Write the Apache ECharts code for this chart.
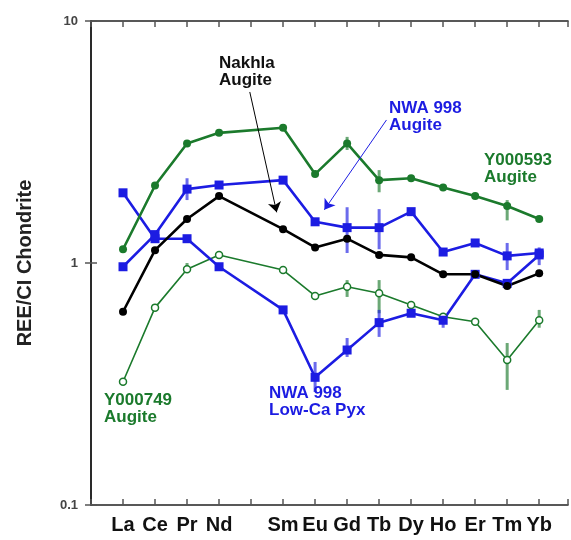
<!DOCTYPE html>
<html>
<head>
<meta charset="utf-8">
<script src="https://cdn.jsdelivr.net/npm/echarts@6/dist/echarts.min.js"></script>
<style>
html,body{margin:0;padding:0;background:#fff;}
#chart{width:571px;height:540px;}
</style>
</head>
<body>
<div id="chart"></div>
<script>
// Element order (Pm position kept, no label)
var elements = ['La','Ce','Pr','Nd','Pm','Sm','Eu','Gd','Tb','Dy','Ho','Er','Tm','Yb'];
var tickLabels = ['La','Ce','Pr','Nd','','Sm','Eu','Gd','Tb','Dy','Ho','Er','Tm','Yb'];
var yTickLabels = {'0.1':'0.1','1':'1','10':'10'};

// REE / CI chondrite values (null = Pm, not measured)
var y000593Aug = [1.14, 2.09, 3.12, 3.45, null, 3.62, 2.33, 3.12, 2.20, 2.24, 2.05, 1.89, 1.72, 1.52];
var nwa998Aug  = [0.965, 1.31, 2.02, 2.10, null, 2.20, 1.48, 1.40, 1.40, 1.63, 1.11, 1.21, 1.07, 1.10];
var nakhlaAug  = [0.629, 1.13, 1.52, 1.89, null, 1.38, 1.16, 1.26, 1.08, 1.055, 0.898, 0.898, 0.804, 0.906];
var nwa998LowCa= [1.95, 1.26, 1.26, 0.965, null, 0.64, 0.337, 0.437, 0.567, 0.62, 0.58, 0.898, 0.824, 1.08];
var y000749Aug = [0.323, 0.654, 0.942, 1.08, null, 0.935, 0.731, 0.798, 0.75, 0.671, 0.60, 0.572, 0.397, 0.58];

// error bars: [element, low, high]
var y000593Err = [['Gd',2.93,3.32],['Tb',1.96,2.42],['Tm',1.50,1.82]];
var nwa998AugErr = [['Pr',1.82,2.24],['Gd',1.10,1.70],['Tb',1.14,1.67],['Tm',0.935,1.21],['Yb',0.98,1.16]];
var nwa998LowCaErr = [['Eu',0.293,0.39],['Gd',0.409,0.49],['Tb',0.495,0.64],['Ho',0.54,0.62]];
var y000749Err = [['Pr',0.92,1.0],['Gd',0.724,0.85],['Tb',0.62,0.85],['Tm',0.299,0.467],['Yb',0.54,0.64]];

var GREEN = '#1b7a2c', BLUE = '#1c1ce2', BLACK = '#000000';
var FONT = '"Liberation Sans", Arial, Helvetica, sans-serif';

function toPts(arr){
  var out = [];
  arr.forEach(function(v,i){ if(v!==null) out.push([i+1, v]); });
  return out;
}
function errPts(arr){
  return arr.map(function(e){ return [elements.indexOf(e[0])+1, e[1], e[2]]; });
}
function errSeries(arr, color){
  return {
    type:'custom', xAxisIndex:0, yAxisIndex:0, silent:true, z:1,
    data: errPts(arr),
    renderItem: function(params, api){
      var p1 = api.coord([api.value(0), api.value(1)]);
      var p2 = api.coord([api.value(0), api.value(2)]);
      return {type:'line', shape:{x1:p1[0],y1:p1[1],x2:p2[0],y2:p2[1]},
              style:{stroke:color, lineWidth:3, opacity:0.65}};
    }
  };
}
function lineSeries(name, arr, color, symbol, size, width, fill, extra){
  var s = {
    name:name, type:'line', data:toPts(arr), connectNulls:true, z:3,
    symbol:symbol, symbolSize:size, showSymbol:true,
    lineStyle:{color:color, width:width},
    itemStyle:{color:fill, borderColor:color, borderWidth: fill==='#ffffff'?1.5:0},
    emphasis:{disabled:true}, animation:false
  };
  if(extra){ for(var k in extra) s[k]=extra[k]; }
  return s;
}

var axisLine = {show:true, lineStyle:{color:'#222', width:1.6}};
var tick = {show:true, inside:true, length:6, lineStyle:{color:'#555', width:1.5}};
var chart = echarts.init(document.getElementById('chart'));
chart.setOption({
  animation:false,
  grid:{left:91, right:2, top:21, bottom:35, containLabel:false},
  xAxis:[{
    type:'value', min:0, max:14.9, interval:1, position:'bottom',
    axisLine:axisLine, axisTick:tick,
    splitLine:{show:false}, showMaxLabel:false, showMinLabel:false,
    axisLabel:{margin:10, fontFamily:FONT, fontWeight:'bold', fontSize:20, color:'#111',
      formatter:function(v){ var i=Math.round(v)-1; return (i>=0 && i<tickLabels.length)?tickLabels[i]:''; }}
  },{
    type:'value', min:0, max:14.9, interval:1, position:'top',
    axisLine:axisLine, axisTick:tick,
    splitLine:{show:false}, axisLabel:{show:false}
  }],
  yAxis:[{
    type:'log', logBase:10, min:0.1, max:10, position:'left',
    axisLine:axisLine, axisTick:tick,
    splitLine:{show:false}, minorTick:{show:false},
    name:'REE/CI Chondrite', nameLocation:'middle', nameGap:56, nameRotate:90,
    nameTextStyle:{fontFamily:FONT, fontWeight:'bold', fontSize:20, color:'#222'},
    axisLabel:{margin:13, fontFamily:FONT, fontWeight:'bold', fontSize:13, color:'#444',
      formatter:function(v){ var k=String(+v.toPrecision(3)); return yTickLabels[k]!==undefined?yTickLabels[k]:''; }}
  },{
    type:'log', logBase:10, min:0.1, max:10, position:'right',
    axisLine:axisLine, axisTick:tick,
    splitLine:{show:false}, axisLabel:{show:false}
  }],
  series:[
    errSeries(y000749Err, GREEN),
    errSeries(nwa998LowCaErr, BLUE),
    errSeries(nwa998AugErr, BLUE),
    errSeries(y000593Err, GREEN),
    lineSeries('Y000749 Augite', y000749Aug, GREEN, 'circle', 7, 1.6, '#ffffff'),
    lineSeries('NWA 998 Low-Ca Pyx', nwa998LowCa, BLUE, 'rect', 9, 2.6, BLUE),
    lineSeries('Nakhla Augite', nakhlaAug, BLACK, 'circle', 8, 2.6, BLACK, {
      markLine:{silent:true, symbol:['none','arrow'], symbolSize:10, label:{show:false},
        lineStyle:{color:BLACK, width:1, type:'solid'},
        data:[[{coord:[4.96,5.09]},{coord:[5.8,1.62]}]]}
    }),
    lineSeries('NWA 998 Augite', nwa998Aug, BLUE, 'rect', 9, 2.6, BLUE, {
      markLine:{silent:true, symbol:['none','arrow'], symbolSize:10, label:{show:false},
        lineStyle:{color:BLUE, width:1, type:'solid'},
        data:[[{coord:[9.23,3.90]},{coord:[7.29,1.66]}]]}
    }),
    lineSeries('Y000593 Augite', y000593Aug, GREEN, 'circle', 8, 2.6, GREEN)
  ],
  graphic:[
    {type:'text', left:219, top:55, style:{text:'Nakhla\nAugite', fill:'#111', font:'bold 17px '+FONT, lineHeight:17}},
    {type:'text', left:389, top:100, style:{text:'NWA 998\nAugite', fill:BLUE, font:'bold 17px '+FONT, lineHeight:17}},
    {type:'text', left:484, top:152, style:{text:'Y000593\nAugite', fill:GREEN, font:'bold 17px '+FONT, lineHeight:17}},
    {type:'text', left:104, top:392, style:{text:'Y000749\nAugite', fill:GREEN, font:'bold 17px '+FONT, lineHeight:17}},
    {type:'text', left:269, top:385, style:{text:'NWA 998\nLow-Ca Pyx', fill:BLUE, font:'bold 17px '+FONT, lineHeight:17}}
  ]
});
</script>
</body>
</html>
